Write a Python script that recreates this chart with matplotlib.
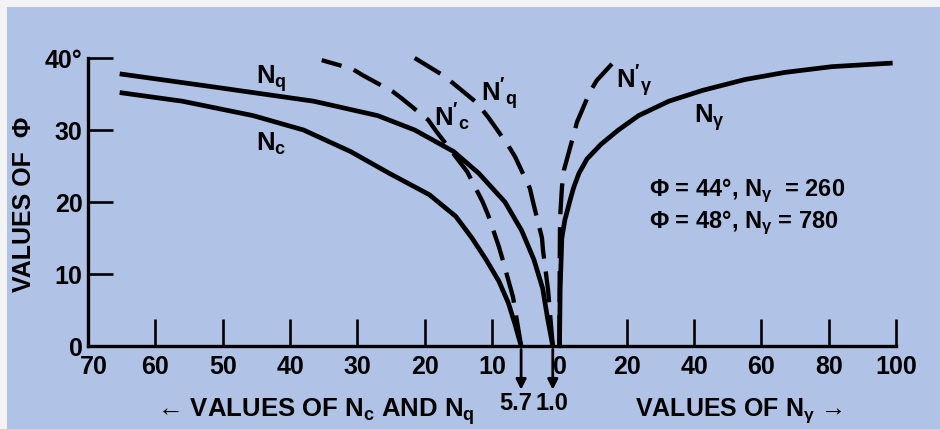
import matplotlib
matplotlib.use("Agg")
import matplotlib.pyplot as plt
import matplotlib.transforms as mtransforms
from matplotlib.patches import Rectangle

# Bearing capacity factors versus angle of shearing resistance (degrees)
phi_nc = [0, 3, 6, 9, 12, 15, 18, 21, 24, 27, 30, 32, 34, 35.2]
nc = [5.7, 6.6, 7.6, 9.0, 10.9, 13.0, 15.4, 19.3, 25.3, 31.0, 38.0, 45.5, 56.0, 65.3]

phi_nq = [0, 4, 8, 12, 16, 20, 24, 27, 30, 32, 34, 36, 37.8]
nq = [1.0, 1.8, 2.5, 3.8, 5.6, 8.1, 12.0, 15.7, 21.5, 27.0, 36.5, 51.5, 65.3]

phi_nc_local = [0, 6.8, 12.2, 13.8, 18.2, 20.0, 24.2, 25.8, 29.7, 31.4, 34.3, 35.3, 37.6, 38.5, 39.7]
nc_local = [5.7, 6.9, 8.5, 9.0, 10.6, 11.4, 13.7, 15.0, 18.2, 19.5, 23.3, 24.7, 29.2, 30.8, 35.3]

phi_nq_local = [0, 7.8, 13.3, 15.0, 19.9, 21.9, 26.3, 27.9, 31.8, 33.8, 36.5, 37.6, 40.0]
nq_local = [1.0, 1.7, 2.45, 2.6, 3.9, 4.4, 6.6, 7.65, 10.6, 12.3, 15.8, 17.3, 21.5]

phi_ng = [0, 8, 15, 17.5, 20, 22, 24, 26, 28, 30, 32, 34, 35.5, 37, 38, 38.8, 39.3]
ng = [0, 0.2, 0.7, 1.6, 3.0, 4.2, 5.8, 8.2, 12.3, 17.5, 23.5, 32.5, 42.5, 55, 67, 81, 99]

phi_ng_local = [0, 10, 17.6, 22.2, 24.4, 29.0, 31.1, 35.3, 36.9, 40.1]
ng_local = [0, 0.05, 0.15, 0.75, 1.3, 4.0, 5.2, 9.05, 11.1, 17.4]

left_ticks = [70, 60, 50, 40, 30, 20, 10]
right_ticks = [0, 20, 40, 60, 80, 100]
phi_ticks = [0, 10, 20, 30, 40]
phi_tick_labels = ['0', '10', '20', '30', '40°']
marked_values = [5.7, 1.0]

plt.rcParams['font.family'] = ['Liberation Sans', 'DejaVu Sans']
plt.rcParams['font.weight'] = 'bold'
plt.rcParams['mathtext.fontset'] = 'custom'
plt.rcParams['mathtext.rm'] = 'Liberation Sans:bold'
plt.rcParams['mathtext.it'] = 'Liberation Sans:bold'
plt.rcParams['mathtext.bf'] = 'Liberation Sans:bold'

W, H = 940, 429
BG = '#B0C3E6'


def px(x, y):
    return x / W, 1 - y / H


fig = plt.figure(figsize=(W / 100, H / 100), dpi=100, facecolor='#F3F3F3')
fig.add_artist(Rectangle((7 / W, 0), 1, 1 - 7 / H, transform=fig.transFigure,
                         facecolor=BG, edgecolor='none', zorder=-10))

y0 = (H - 346) / H
hgt = (346 - 58) / H
ax_l = fig.add_axes([88 / W, y0, (559.5 - 88) / W, hgt])
ax_r = fig.add_axes([559.5 / W, y0, (896 - 559.5) / W, hgt])

for ax in (ax_l, ax_r):
    ax.set_facecolor('none')
    ax.set_ylim(0, 40)
    for s in ('top', 'right'):
        ax.spines[s].set_visible(False)
    ax.spines['bottom'].set_linewidth(2.4)
    ax.tick_params(axis='x', direction='in', length=19.5, width=1.9,
                   pad=6.5, labelsize=18)

ax_l.spines['left'].set_linewidth(2.4)
ax_r.spines['left'].set_visible(False)
ax_r.set_yticks([])
ax_l.tick_params(axis='y', direction='in', length=18, width=1.9,
                 pad=4, labelsize=18)

ax_l.set_xlim(70, 0)
ax_l.set_xticks(left_ticks)
ax_l.set_xticklabels([str(v) for v in left_ticks])
ax_l.xaxis.get_major_ticks()[0].tick1line.set_visible(False)

ax_r.set_xlim(0, 100)
ax_r.set_xticks(right_ticks)
ax_r.set_xticklabels([str(v) for v in right_ticks])
ax_r.xaxis.get_major_ticks()[0].tick1line.set_visible(False)

ax_l.set_yticks(phi_ticks)
ax_l.set_yticklabels(phi_tick_labels)
ax_l.yaxis.get_major_ticks()[0].tick1line.set_visible(False)

# the corner label "70" sits a little to the right of the axis corner
corner = ax_l.get_xticklabels()[0]
corner.set_transform(corner.get_transform() +
                     mtransforms.ScaledTranslation(6 / 100, 0, fig.dpi_scale_trans))

solid = dict(color='black', lw=3.4, solid_capstyle='butt',
             solid_joinstyle='round', clip_on=False)
dashed = dict(color='black', lw=3.1, linestyle=(0, (7.2, 3.0)),
              dash_capstyle='butt', dash_joinstyle='round', clip_on=False)

ax_l.plot(nc, phi_nc, **solid)
ax_l.plot(nq, phi_nq, **solid)
ax_l.plot(nc_local, phi_nc_local, **dashed)
ax_l.plot(nq_local, phi_nq_local, **dashed)
ax_r.plot(ng, phi_ng, **solid)
ax_r.plot(ng_local, phi_ng_local, **dashed)

# curve labels
lab = dict(fontsize=18.5, ha='left', va='baseline')
fig.text(*px(256, 84), r'$\mathrm{N_q}$', **lab)
fig.text(*px(256, 151), r'$\mathrm{N_c}$', **lab)
fig.text(*px(434, 126), r"$\mathrm{N}'_\mathrm{c}$", **lab)
fig.text(*px(481, 101), r"$\mathrm{N}'_\mathrm{q}$", **lab)
fig.text(*px(616, 88), r"$\mathrm{N}'_\gamma$", **lab)
fig.text(*px(694, 123), r'$\mathrm{N}_\gamma$', **lab)

fig.text(*px(649, 191), r'Φ = 44°, $\mathrm{N}_\gamma$  = 260', fontsize=17,
         ha='left', va='center')
fig.text(*px(649, 223), r'Φ = 48°, $\mathrm{N}_\gamma$ = 780', fontsize=17,
         ha='left', va='center')

# axis titles
fig.text(*px(24, 204), 'VALUES OF  Φ', rotation=90, fontsize=18,
         ha='center', va='center')
fig.text(*px(316, 412), r'← VALUES OF $\mathrm{N_c}$ AND $\mathrm{N_q}$',
         fontsize=18.5, ha='center', va='center')
fig.text(*px(739, 411), r'VALUES OF $\mathrm{N}_\gamma$ →',
         fontsize=18, ha='center', va='center')

# arrows marking the factors at phi = 0
label_shift = {5.7: -5, 1.0: -1}
for v in marked_values:
    ax_l.annotate('', xy=(v, -0.152), xytext=(v, -0.012),
                  xycoords=('data', 'axes fraction'),
                  textcoords=('data', 'axes fraction'),
                  arrowprops=dict(arrowstyle='-|>', lw=2.0, color='black',
                                  mutation_scale=15, shrinkA=0, shrinkB=0),
                  annotation_clip=False)
    ax_l.annotate(f'{v:.1f}', xy=(v, -0.198),
                  xycoords=('data', 'axes fraction'),
                  xytext=(label_shift[v], 0), textcoords='offset pixels',
                  ha='center', va='center', fontsize=17,
                  annotation_clip=False)

fig.savefig('out.png', dpi=100, facecolor=fig.get_facecolor())
